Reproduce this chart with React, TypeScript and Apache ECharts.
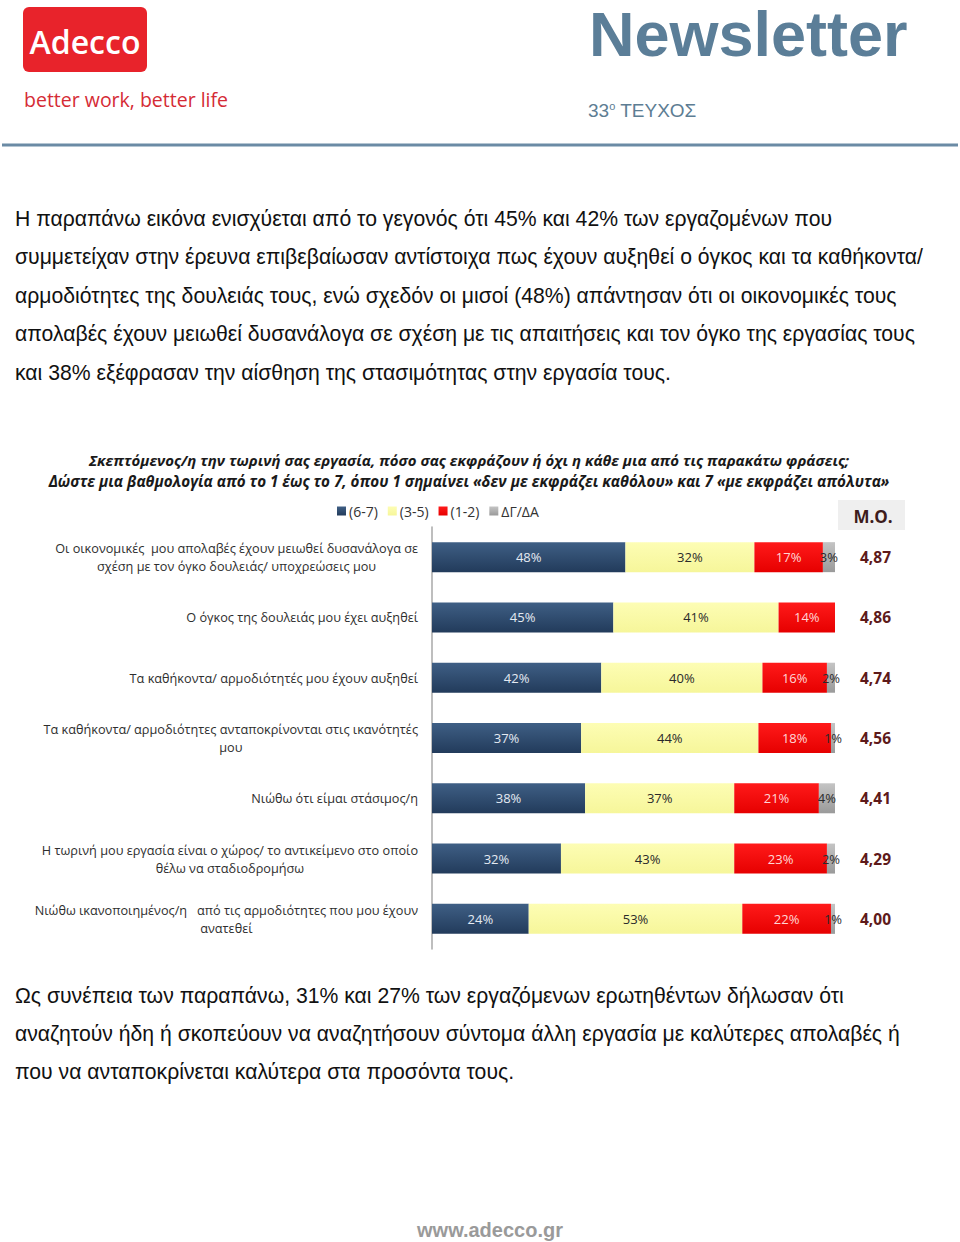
import React, { useEffect, useRef } from 'react';
import * as echarts from 'echarts';

const categories = [
  'Οι οικονομικές  μου απολαβές έχουν μειωθεί δυσανάλογα σε\nσχέση με τον όγκο δουλειάς/ υποχρεώσεις μου',
  'Ο όγκος της δουλειάς μου έχει αυξηθεί',
  'Τα καθήκοντα/ αρμοδιότητές μου έχουν αυξηθεί',
  'Τα καθήκοντα/ αρμοδιότητες ανταποκρίνονται στις ικανότητές\nμου',
  'Νιώθω ότι είμαι στάσιμος/η',
  'Η τωρινή μου εργασία είναι ο χώρος/ το αντικείμενο στο οποίο\nθέλω να σταδιοδρομήσω',
  'Νιώθω ικανοποιημένος/η   από τις αρμοδιότητες που μου έχουν\nανατεθεί',
];
const seriesNames = ['(6-7)', '(3-5)', '(1-2)', 'ΔΓ/ΔΑ'];
const high = [48, 45, 42, 37, 38, 32, 24];
const mid = [32, 41, 40, 44, 37, 43, 53];
const low = [17, 14, 16, 18, 21, 23, 22];
const dkna = [3, 0, 2, 1, 4, 2, 1];
const meanScores = ['4,87', '4,86', '4,74', '4,56', '4,41', '4,29', '4,00'];

const chartTitle = [
  'Σκεπτόμενος/η την τωρινή σας εργασία, πόσο σας εκφράζουν ή όχι η κάθε μια από τις παρακάτω φράσεις;',
  'Δώστε μια βαθμολογία από το 1 έως το 7, όπου 1 σημαίνει «δεν με εκφράζει καθόλου» και 7 «με εκφράζει απόλυτα»',
];
const paragraph1 = [
  'Η παραπάνω εικόνα ενισχύεται από το γεγονός ότι 45% και 42% των εργαζομένων που',
  'συμμετείχαν στην έρευνα επιβεβαίωσαν αντίστοιχα πως έχουν αυξηθεί ο όγκος και τα καθήκοντα/',
  'αρμοδιότητες της δουλειάς τους, ενώ σχεδόν οι μισοί (48%) απάντησαν ότι οι οικονομικές τους',
  'απολαβές έχουν μειωθεί δυσανάλογα σε σχέση με τις απαιτήσεις και τον όγκο της εργασίας τους',
  'και 38% εξέφρασαν την αίσθηση της στασιμότητας στην εργασία τους.',
];
const paragraph2 = [
  'Ως συνέπεια των παραπάνω, 31% και 27% των εργαζόμενων ερωτηθέντων δήλωσαν ότι',
  'αναζητούν ήδη ή σκοπεύουν να αναζητήσουν σύντομα άλλη εργασία με καλύτερες απολαβές ή',
  'που να ανταποκρίνεται καλύτερα στα προσόντα τους.',
];

const bodyFont = '"Liberation Sans", Arial, sans-serif';
const labelFont = '"Open Sans", sans-serif';

function grad(top: string, bottom: string) {
  return new echarts.graphic.LinearGradient(0, 0, 0, 1, [
    { offset: 0, color: top },
    { offset: 1, color: bottom },
  ]);
}

export default function App() {
  const ref = useRef<HTMLDivElement>(null);
  useEffect(() => {
    if (!ref.current) return;
    const chart = echarts.init(ref.current, null, { renderer: 'svg' });

    const paraTexts: any[] = [];
    paragraph1.forEach((t, i) => {
      paraTexts.push({
        type: 'text', x: 15, y: 218 + i * 38.5,
        style: { text: t, font: `21.2px ${bodyFont}`, fill: '#111', align: 'left', verticalAlign: 'middle' },
      });
    });
    paragraph2.forEach((t, i) => {
      paraTexts.push({
        type: 'text', x: 15, y: 995 + i * 38.3,
        style: { text: t, font: `21.2px ${bodyFont}`, fill: '#111', align: 'left', verticalAlign: 'middle' },
      });
    });

    const barLabel = (color: string) => ({
      show: true,
      position: 'inside' as const,
      color,
      fontSize: 13,
      fontFamily: labelFont,
      formatter: (p: any) => (p.value > 0 ? p.value + '%' : ''),
    });

    const colors = [
      grad('#3f5f85', '#223b5b'),
      grad('#fdfdb4', '#f6f69a'),
      grad('#ff1a1a', '#e60000'),
      grad('#c4c4c4', '#9a9a9a'),
    ];
    const dataSets = [high, mid, low, dkna];
    const labelColors = ['#e4eaf2', '#2a2a2a', '#ffd6d6', '#2a2a2a'];

    const rich: any = {
      c: { align: 'center', fontSize: 12.7, fontFamily: labelFont, color: '#2e2e2e', lineHeight: 18 },
    };

    chart.setOption({
      animation: false,
      backgroundColor: '#ffffff',
      legend: {
        data: seriesNames,
        left: 332,
        top: 499,
        icon: 'rect',
        itemWidth: 9,
        itemHeight: 9,
        itemGap: 10,
        textStyle: { fontSize: 14, color: '#333', fontFamily: labelFont, padding: [0, 0, 0, -2] },
      },
      grid: { left: 432, right: 125, top: 527, height: 422 },
      xAxis: { type: 'value', min: 0, max: 100, show: false },
      yAxis: [
        {
          type: 'category',
          data: categories,
          inverse: true,
          axisLine: { show: true, lineStyle: { color: '#a8a8a8', width: 1.5 } },
          axisTick: { show: false },
          axisLabel: {
            margin: 14,
            align: 'right',
            formatter: (v: string) => v.split('\n').map((l) => `{c|${l}}`).join('\n'),
            rich,
          },
        },
        {
          type: 'category',
          data: categories,
          inverse: true,
          position: 'right',
          axisLine: { show: false },
          axisTick: { show: false },
          axisLabel: {
            margin: 25,
            align: 'left',
            fontSize: 15.5,
            fontWeight: 'bold',
            fontFamily: labelFont,
            color: '#5e1a1a',
            formatter: (_v: string, i: number) => meanScores[i],
          },
        },
      ],
      series: dataSets.map((d, k) => ({
        name: seriesNames[k],
        type: 'bar',
        stack: 'total',
        barWidth: 30,
        data: d,
        itemStyle: { color: colors[k] },
        label: barLabel(labelColors[k]),
      })),
      color: ['#2d4a6e', '#fbfba6', '#ff0000', '#a6a6a6'],
      graphic: [
        { type: 'rect', shape: { x: 23, y: 7, width: 124, height: 65, r: 6 }, style: { fill: '#e8232b' } },
        {
          type: 'text', x: 85, y: 41,
          style: { text: 'Adecco', font: `600 32px ${labelFont}`, fill: '#fff', align: 'center', verticalAlign: 'middle' },
        },
        {
          type: 'text', x: 24, y: 99,
          style: { text: 'better work, better life', font: `19.5px ${labelFont}`, fill: '#d52b35', align: 'left', verticalAlign: 'middle' },
        },
        {
          type: 'text', x: 589, y: 34,
          style: { text: 'Newsletter', font: `bold 63px ${bodyFont}`, fill: '#5b7e98', align: 'left', verticalAlign: 'middle' },
        },
        {
          type: 'text', x: 588, y: 110,
          style: {
            text: '{n|33}{s|ο}{n| ΤΕΥΧΟΣ}',
            align: 'left', verticalAlign: 'middle', fill: '#5d7d93',
            rich: {
              n: { font: `19px ${bodyFont}`, fill: '#5d7d93' },
              s: { font: `11px ${bodyFont}`, fill: '#5d7d93', verticalAlign: 'top', padding: [0, 0, 8, 0] },
            },
          },
        },
        { type: 'line', shape: { x1: 2, y1: 145, x2: 958, y2: 145 }, style: { stroke: '#6b8ba5', lineWidth: 3 } },
        ...paraTexts,
        {
          type: 'text', x: 469, y: 460,
          style: { text: chartTitle[0], font: `italic bold 15px ${labelFont}`, fill: '#1a1a1a', align: 'center', verticalAlign: 'middle' },
        },
        {
          type: 'text', x: 469, y: 481,
          style: { text: chartTitle[1], font: `italic bold 15.2px ${labelFont}`, fill: '#1a1a1a', align: 'center', verticalAlign: 'middle' },
        },
        { type: 'rect', shape: { x: 838, y: 500, width: 67, height: 30 }, style: { fill: '#efefef' } },
        {
          type: 'text', x: 873, y: 516,
          style: { text: 'M.O.', font: `bold 17px ${labelFont}`, fill: '#3d1c1c', align: 'center', verticalAlign: 'middle' },
        },
        {
          type: 'text', x: 490, y: 1230,
          style: { text: 'www.adecco.gr', font: `bold 20px ${bodyFont}`, fill: '#9a9a9a', align: 'center', verticalAlign: 'middle' },
        },
      ],
    });
    return () => chart.dispose();
  }, []);
  return <div ref={ref} style={{ position: 'absolute', left: 0, top: 0, width: 960, height: 1242 }} />;
}
